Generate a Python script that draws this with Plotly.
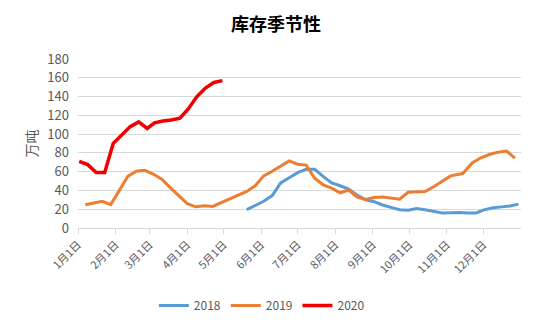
import plotly.graph_objects as go

BASE_YEAR = "2019"

dates_2018 = ["05-20", "05-27", "06-03", "06-10", "06-17", "06-24", "07-01", "07-08", "07-15",
              "07-22", "07-29", "08-05", "08-12", "08-19", "08-26", "09-02", "09-09", "09-16",
              "09-23", "09-30", "10-07", "10-14", "10-21", "10-28", "11-04", "11-11", "11-18",
              "11-25", "12-02", "12-09", "12-16", "12-23", "12-30"]
values_2018 = [19.5, 24, 28.5, 34.5, 48, 53.5, 59, 62.5, 62.5,
               55, 48, 45, 41.5, 35, 30, 28, 24.5, 22,
               19.5, 19, 20.8, 19.5, 18, 16, 16.3, 16.6, 16,
               16, 19.5, 21.5, 22.5, 23.5, 25.4]

dates_2019 = ["01-07", "01-14", "01-21", "01-28", "02-04", "02-11", "02-18", "02-25", "03-04",
              "03-11", "03-18", "03-25", "04-01", "04-08", "04-15", "04-22", "04-29", "05-06",
              "05-13", "05-20", "05-27", "06-03", "06-10", "06-17", "06-24", "07-01", "07-08",
              "07-15", "07-22", "07-29", "08-05", "08-12", "08-19", "08-26", "09-02", "09-09",
              "09-16", "09-23", "09-30", "10-07", "10-14", "10-21", "10-28", "11-04", "11-14",
              "11-22", "11-29", "12-06", "12-13", "12-20", "12-27"]
values_2019 = [24.7, 26.5, 28.5, 25, 40, 55, 60.5, 61.5, 57.5,
               52, 43, 34, 26, 22.6, 23.8, 23, 27, 31,
               35, 39, 45, 55.5, 60.5, 66, 71.5, 68, 67,
               53, 46, 42.5, 37.5, 40.5, 33, 30.5, 32.5, 33,
               32, 30.7, 38, 38.5, 38.8, 44, 50, 55.5, 58,
               69.5, 74.8, 78.3, 80.8, 82, 74.5]

dates_2020 = ["01-02", "01-09", "01-16", "01-23", "01-30", "02-06", "02-13", "02-20", "02-27",
              "03-05", "03-12", "03-19", "03-26", "04-02", "04-09", "04-16", "04-23", "04-30"]
values_2020 = [71, 67.5, 59, 59, 90, 99, 108, 113, 106,
               112, 114, 115, 117, 127, 140, 149, 155, 157]

month_ticks = ["01-01", "02-01", "03-01", "04-01", "05-01", "06-01", "07-01", "08-01",
               "09-01", "10-01", "11-01", "12-01"]
month_labels = ["1月1日", "2月1日", "3月1日", "4月1日", "5月1日", "6月1日", "7月1日", "8月1日",
                "9月1日", "10月1日", "11月1日", "12月1日"]

series_names = ["2018", "2019", "2020"]
series_colors = ["#5B9BD5", "#ED7D31", "#F00000"]


def to_date(md):
    return f"{BASE_YEAR}-{md}"


fig = go.Figure()
for name, d, v, c, w in [
    (series_names[0], dates_2018, values_2018, series_colors[0], 3),
    (series_names[1], dates_2019, values_2019, series_colors[1], 3),
    (series_names[2], dates_2020, values_2020, series_colors[2], 3.5),
]:
    fig.add_trace(go.Scatter(
        x=[to_date(m) for m in d], y=v, name=name, mode="lines",
        line=dict(color=c, width=w), hoverinfo="skip",
    ))

font_family = "Noto Sans CJK SC, Noto Sans, sans-serif"

fig.update_layout(
    width=550, height=330,
    margin=dict(l=78, r=29, t=59, b=101),
    paper_bgcolor="white", plot_bgcolor="white",
    font=dict(family=font_family, color="#595959", size=12),
    title=dict(text="库存季节性", x=0.502, xanchor="center", y=0.925, yanchor="middle",
               font=dict(family=font_family, size=18, color="#000000", weight="bold")),
    showlegend=True,
    legend=dict(orientation="h", x=0.415, xanchor="center", y=-0.45, yanchor="middle",
                font=dict(size=12, color="#595959"), itemwidth=30, tracegroupgap=0),
)

fig.update_xaxes(
    type="date",
    range=[to_date("01-01"), "2020-01-01"],
    tickmode="array",
    tickvals=[to_date(m) for m in month_ticks],
    ticktext=month_labels,
    tickangle=-45,
    tickfont=dict(size=11, color="#595959"),
    showgrid=False,
    showline=True, linecolor="#D9D9D9", linewidth=1,
    ticks="outside", ticklen=5, tickcolor="#D9D9D9",
    zeroline=False,
)

fig.update_yaxes(
    range=[0, 180], dtick=20, tick0=0,
    showgrid=True, gridcolor="#D9D9D9", gridwidth=1,
    zeroline=False, showline=False,
    tickfont=dict(size=13, color="#595959"),
    ticks="", ticklabelstandoff=8,
    title=dict(text="万吨", font=dict(size=14, color="#595959"), standoff=6),
)

fig.write_html("out.html")
